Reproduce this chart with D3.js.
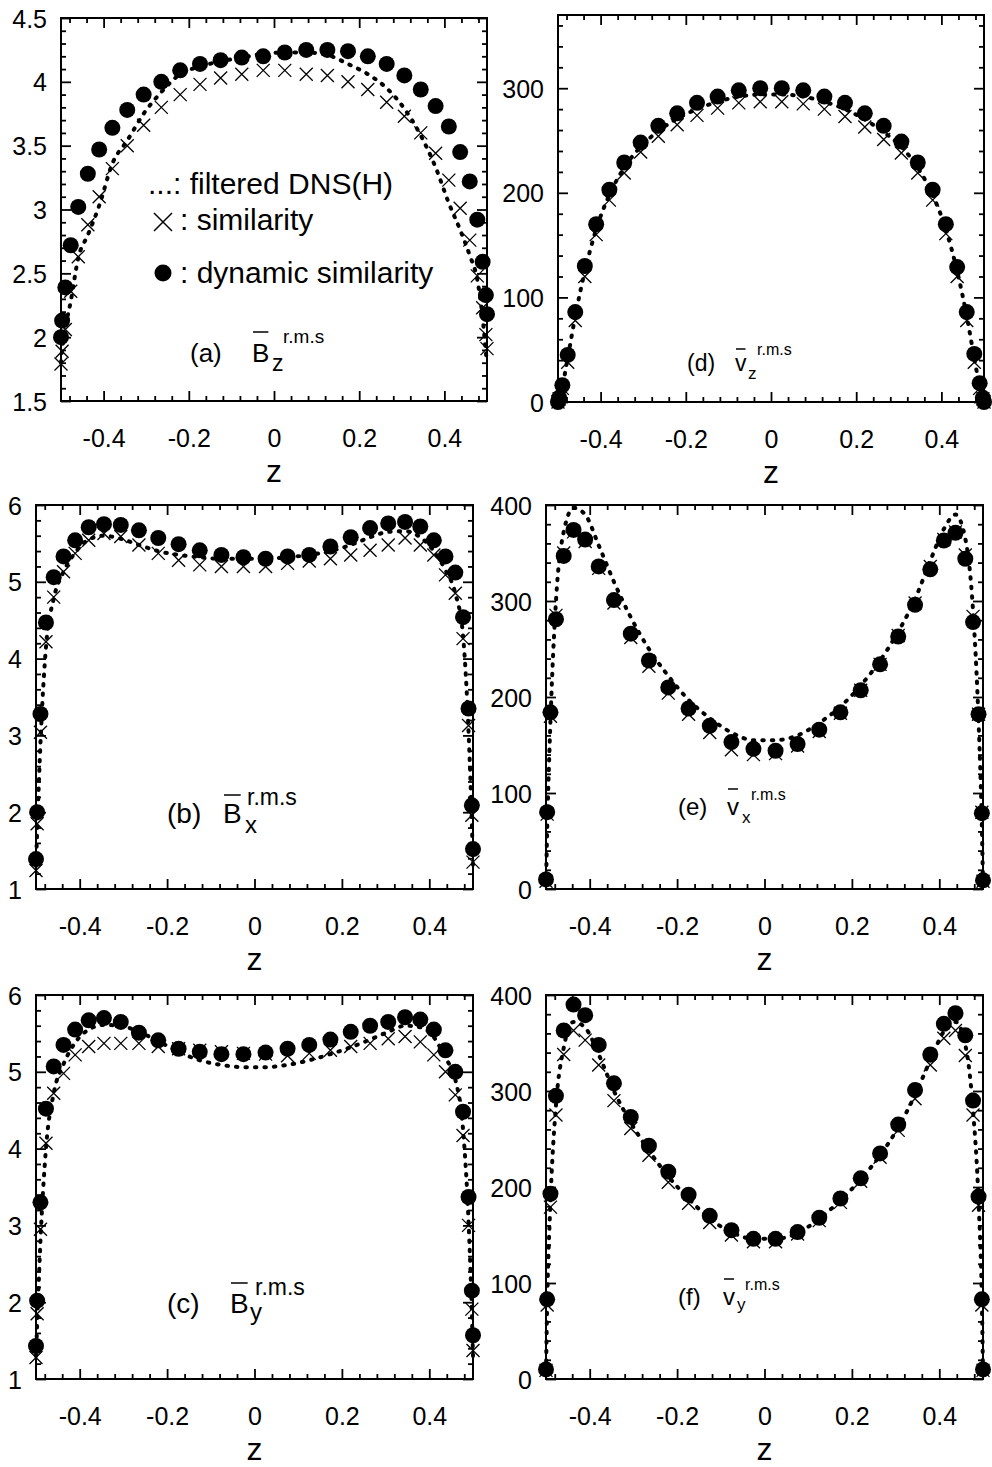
<!DOCTYPE html>
<html>
<head>
<meta charset="utf-8">
<script src="https://cdn.jsdelivr.net/npm/d3@7"></script>
<style>
  html, body { margin: 0; padding: 0; background: #fff; }
  svg { display: block; font-family: "Liberation Sans", Arial, Helvetica, sans-serif; }
</style>
</head>
<body>
<svg id="chart" width="992" height="1467"></svg>
<script>
// wall-normal grid positions z
const zGrid = [-0.5, -0.4974, -0.4898, -0.4772, -0.4595, -0.4370, -0.4104, -0.3794, -0.3445, -0.3060,
  -0.2645, -0.2202, -0.1737, -0.1253, -0.0757, -0.0253, 0.0253, 0.0757, 0.1253, 0.1737, 0.2202,
  0.2645, 0.3060, 0.3445, 0.3794, 0.4104, 0.4370, 0.4595, 0.4772, 0.4898, 0.4974, 0.5];

// (a) Bz r.m.s
const bzDns = [1.80, 1.90, 2.07, 2.28, 2.62, 2.80, 3.03, 3.36, 3.54, 3.75, 3.92, 4.06, 4.12, 4.16, 4.19, 4.22,
  4.23, 4.23, 4.21, 4.14, 4.06, 3.95, 3.79, 3.58, 3.33, 3.05, 2.84, 2.64, 2.45, 2.15, 1.88, 1.80];
const bzSim = [1.79, 1.89, 2.06, 2.36, 2.63, 2.88, 3.10, 3.32, 3.50, 3.66, 3.80, 3.90, 3.98, 4.03, 4.06, 4.09,
  4.09, 4.06, 4.05, 4.00, 3.94, 3.84, 3.73, 3.60, 3.44, 3.23, 3.01, 2.76, 2.48, 2.23, 2.02, 1.91];
const bzDyn = [2.00, 2.13, 2.39, 2.72, 3.02, 3.28, 3.47, 3.64, 3.78, 3.90, 4.00, 4.09, 4.14, 4.17, 4.19, 4.20,
  4.23, 4.25, 4.25, 4.24, 4.20, 4.14, 4.05, 3.94, 3.81, 3.65, 3.45, 3.22, 2.92, 2.59, 2.33, 2.18];

// (b) Bx r.m.s
const bxDns = [1.30, 1.75, 2.90, 4.15, 4.78, 5.13, 5.38, 5.55, 5.60, 5.56, 5.48, 5.40, 5.35, 5.32, 5.30, 5.30,
  5.30, 5.32, 5.35, 5.40, 5.48, 5.58, 5.65, 5.66, 5.58, 5.40, 5.15, 4.85, 4.30, 3.05, 1.85, 1.30];
const bxSim = [1.24, 1.85, 3.04, 4.22, 4.80, 5.13, 5.37, 5.54, 5.63, 5.59, 5.48, 5.37, 5.28, 5.22, 5.20, 5.20,
  5.20, 5.24, 5.27, 5.30, 5.35, 5.41, 5.48, 5.57, 5.48, 5.35, 5.09, 4.85, 4.26, 3.13, 1.96, 1.35];
const bxDyn = [1.39, 2.00, 3.28, 4.47, 5.06, 5.33, 5.54, 5.71, 5.75, 5.74, 5.67, 5.57, 5.49, 5.41, 5.35, 5.32,
  5.30, 5.33, 5.35, 5.46, 5.58, 5.70, 5.76, 5.78, 5.72, 5.54, 5.33, 5.12, 4.54, 3.35, 2.09, 1.52];

// (c) By r.m.s
const byDns = [1.30, 1.70, 2.80, 4.00, 4.72, 5.10, 5.38, 5.55, 5.61, 5.60, 5.52, 5.40, 5.26, 5.15, 5.09, 5.06,
  5.06, 5.09, 5.15, 5.23, 5.32, 5.42, 5.52, 5.60, 5.58, 5.45, 5.18, 4.90, 4.25, 3.05, 1.85, 1.30];
const bySim = [1.28, 1.85, 2.95, 4.07, 4.72, 4.98, 5.22, 5.33, 5.37, 5.37, 5.37, 5.33, 5.30, 5.28, 5.26, 5.24,
  5.23, 5.21, 5.24, 5.28, 5.33, 5.37, 5.43, 5.46, 5.39, 5.22, 5.00, 4.70, 4.17, 3.00, 1.91, 1.37];
const byDyn = [1.43, 2.02, 3.30, 4.52, 5.07, 5.35, 5.55, 5.67, 5.70, 5.65, 5.51, 5.41, 5.30, 5.26, 5.23, 5.23,
  5.25, 5.30, 5.35, 5.42, 5.52, 5.60, 5.65, 5.71, 5.68, 5.55, 5.28, 5.00, 4.48, 3.37, 2.15, 1.57];

// (d) vz r.m.s
const vzDns = [0, 3, 15, 42, 82, 125, 165, 198, 224, 244, 259, 271, 280, 287, 292, 294,
  294, 292, 287, 280, 270, 258, 244, 224, 198, 165, 125, 82, 42, 15, 3, 0];
const vzSim = [0, 3, 13, 38, 78, 120, 160, 193, 219, 239, 254, 265, 274, 281, 286, 287,
  287, 285, 280, 273, 263, 251, 238, 219, 193, 161, 120, 78, 38, 13, 3, 0];
const vzDyn = [0, 4, 16, 45, 86, 130, 170, 203, 229, 248, 264, 276, 286, 292, 298, 300,
  300, 298, 292, 286, 276, 264, 249, 229, 203, 170, 129, 86, 46, 18, 4, 0];

// (e) vx r.m.s
const vxDns = [5, 60, 175, 300, 372, 397, 390, 358, 320, 283, 250, 222, 197, 178, 163, 155,
  155, 160, 173, 190, 212, 238, 268, 302, 342, 375, 390, 365, 290, 175, 65, 5];
const vxSim = [8, 78, 180, 285, 350, 372, 362, 334, 298, 262, 232, 204, 182, 163, 145, 140,
  141, 149, 164, 183, 207, 234, 264, 298, 336, 364, 372, 348, 284, 182, 80, 8];
const vxDyn = [10, 80, 184, 281, 347, 374, 364, 336, 301, 266, 238, 210, 188, 170, 153, 146,
  144, 151, 166, 184, 207, 234, 263, 296, 333, 363, 371, 344, 278, 182, 79, 9];

// (f) vy r.m.s
const vyDns = [8, 75, 185, 285, 345, 372, 366, 338, 300, 267, 238, 211, 188, 167, 153, 146,
  146, 152, 167, 186, 208, 233, 262, 296, 332, 362, 372, 348, 280, 185, 80, 8];
const vySim = [9, 77, 179, 275, 338, 363, 353, 327, 290, 261, 233, 205, 183, 163, 150, 143,
  143, 151, 165, 184, 206, 231, 259, 292, 327, 355, 363, 337, 275, 181, 77, 9];
const vyDyn = [10, 83, 193, 295, 363, 390, 379, 348, 308, 273, 243, 216, 192, 170, 155, 146,
  146, 153, 168, 188, 209, 235, 265, 301, 338, 370, 381, 358, 290, 190, 83, 10];

// tick labels
const zTickValues = [-0.4, -0.2, 0, 0.2, 0.4];
const zTickLabels = ["-0.4", "-0.2", "0", "0.2", "0.4"];
const bzTickValues = [1.5, 2, 2.5, 3, 3.5, 4, 4.5];
const bzTickLabels = ["1.5", "2", "2.5", "3", "3.5", "4", "4.5"];
const bTickValues = [1, 2, 3, 4, 5, 6];
const bTickLabels = ["1", "2", "3", "4", "5", "6"];
const vzTickValues = [0, 100, 200, 300];
const vzTickLabels = ["0", "100", "200", "300"];
const vTickValues = [0, 100, 200, 300, 400];
const vTickLabels = ["0", "100", "200", "300", "400"];

const svg = d3.select("#chart");

const panels = [
  { frame: [61, 487, 18, 401], yDomain: [1.5, 4.5], yMinorStep: 0.1,
    yTicks: bzTickValues, yLabels: bzTickLabels, dns: bzDns, sim: bzSim, dyn: bzDyn,
    note: { tag: "(a)", tx: 190, sym: "B", sx: 252, base: 362, fs: 26, ol: 332,
            sub: "z", subx: 272, subBase: 371, subFs: 23, sup: "r.m.s", supx: 283, supBase: 343, supFs: 19 } },
  { frame: [558, 984, 15, 402], yDomain: [0, 370], yMinorStep: 20,
    yTicks: vzTickValues, yLabels: vzTickLabels, dns: vzDns, sim: vzSim, dyn: vzDyn,
    note: { tag: "(d)", tx: 687, sym: "v", sx: 735, base: 371, fs: 23, ol: 349,
            sub: "z", subx: 748, subBase: 379, subFs: 17, sup: "r.m.s", supx: 757, supBase: 355, supFs: 16 } },
  { frame: [36, 473, 505, 889], yDomain: [1, 6], yMinorStep: 0.2,
    yTicks: bTickValues, yLabels: bTickLabels, dns: bxDns, sim: bxSim, dyn: bxDyn,
    note: { tag: "(b)", tx: 167, sym: "B", sx: 223, base: 823, fs: 28, ol: 795,
            sub: "x", subx: 245, subBase: 833, subFs: 24, sup: "r.m.s", supx: 247, supBase: 805, supFs: 23 } },
  { frame: [546, 983, 505, 889], yDomain: [0, 400], yMinorStep: 20,
    yTicks: vTickValues, yLabels: vTickLabels, dns: vxDns, sim: vxSim, dyn: vxDyn,
    note: { tag: "(e)", tx: 678, sym: "v", sx: 727, base: 815, fs: 24, ol: 789,
            sub: "x", subx: 742, subBase: 823, subFs: 17, sup: "r.m.s", supx: 751, supBase: 800, supFs: 16 } },
  { frame: [36, 473, 995, 1379], yDomain: [1, 6], yMinorStep: 0.2,
    yTicks: bTickValues, yLabels: bTickLabels, dns: byDns, sim: bySim, dyn: byDyn,
    note: { tag: "(c)", tx: 167, sym: "B", sx: 230, base: 1313, fs: 28, ol: 1283,
            sub: "y", subx: 250, subBase: 1320, subFs: 24, sup: "r.m.s", supx: 255, supBase: 1295, supFs: 23 } },
  { frame: [546, 983, 995, 1379], yDomain: [0, 400], yMinorStep: 20,
    yTicks: vTickValues, yLabels: vTickLabels, dns: vyDns, sim: vySim, dyn: vyDyn,
    note: { tag: "(f)", tx: 678, sym: "v", sx: 723, base: 1305, fs: 24, ol: 1279,
            sub: "y", subx: 737, subBase: 1310, subFs: 17, sup: "r.m.s", supx: 745, supBase: 1290, supFs: 16 } }
];

const crossPath = s => `M${-s},${-s}L${s},${s}M${-s},${s}L${s},${-s}`;

function drawPanel(p) {
  const [x0, x1, y0, y1] = p.frame;
  const x = d3.scaleLinear().domain([-0.5, 0.5]).range([x0, x1]);
  const y = d3.scaleLinear().domain(p.yDomain).range([y1, y0]);
  const g = svg.append("g");

  // minor / major tick positions
  const zMinor = d3.range(-12, 13).map(i => +(i * 0.04).toFixed(2)).filter(v => !zTickValues.includes(v));
  const nY = Math.round((p.yDomain[1] - p.yDomain[0]) / p.yMinorStep);
  const yMinor = d3.range(1, nY).map(i => +(p.yDomain[0] + i * p.yMinorStep).toFixed(3))
    .filter(v => !p.yTicks.some(t => Math.abs(t - v) < 1e-6));

  const tickStyle = sel => {
    sel.select(".domain").remove();
    sel.selectAll("line").attr("stroke", "#000").attr("stroke-width", 1.8);
    sel.selectAll("text").remove();
  };
  const axes = [
    [d3.axisBottom(x), `translate(0,${y1})`, zMinor, zTickValues],
    [d3.axisTop(x), `translate(0,${y0})`, zMinor, zTickValues],
    [d3.axisLeft(y), `translate(${x0},0)`, yMinor, p.yTicks],
    [d3.axisRight(y), `translate(${x1},0)`, yMinor, p.yTicks]
  ];
  axes.forEach(([ax, tr, minor, major]) => {
    g.append("g").attr("transform", tr).call(ax.tickValues(minor).tickSize(-5).tickSizeOuter(0)).call(tickStyle);
    g.append("g").attr("transform", tr).call(ax.tickValues(major).tickSize(-10).tickSizeOuter(0)).call(tickStyle);
  });

  // frame
  g.append("rect").attr("x", x0).attr("y", y0).attr("width", x1 - x0).attr("height", y1 - y0)
    .attr("fill", "none").attr("stroke", "#000").attr("stroke-width", 2);

  // tick labels
  const xl = g.append("g").attr("transform", `translate(0,${y1})`)
    .call(d3.axisBottom(x).tickValues(zTickValues).tickSize(0).tickFormat((d, i) => zTickLabels[i]));
  xl.select(".domain").remove();
  xl.selectAll("text").attr("y", 46).attr("dy", null).attr("fill", "#000")
    .style("font-size", "25px").style("font-family", "inherit");

  const yl = g.append("g").attr("transform", `translate(${x0},0)`)
    .call(d3.axisLeft(y).tickValues(p.yTicks).tickSize(0).tickFormat((d, i) => p.yLabels[i]));
  yl.select(".domain").remove();
  yl.selectAll("text").attr("x", -14).attr("dy", "0.36em").attr("fill", "#000")
    .style("font-size", "25px").style("font-family", "inherit");

  // axis title
  g.append("text").attr("x", (x0 + x1) / 2).attr("y", y1 + 81).attr("text-anchor", "middle")
    .style("font-size", "32px").text("z");

  // filtered DNS: dotted curve
  const line = d3.line().x((d, i) => x(zGrid[i])).y(d => y(d)).curve(d3.curveMonotoneX);
  g.append("path").attr("d", line(p.dns)).attr("fill", "none").attr("stroke", "#000")
    .attr("stroke-width", 4).attr("stroke-linecap", "round").attr("stroke-dasharray", "1.5 8");

  // similarity model: crosses
  g.append("g").selectAll("path").data(p.sim).join("path")
    .attr("transform", (d, i) => `translate(${x(zGrid[i])},${y(d)})`)
    .attr("d", crossPath(6.5)).attr("stroke", "#000").attr("stroke-width", 1.3).attr("fill", "none");

  // dynamic similarity model: filled circles
  g.append("g").selectAll("circle").data(p.dyn).join("circle")
    .attr("cx", (d, i) => x(zGrid[i])).attr("cy", d => y(d)).attr("r", 8).attr("fill", "#000");

  // panel annotation with overlined symbol, subscript and superscript
  const n = p.note;
  g.append("text").attr("x", n.tx).attr("y", n.base).style("font-size", n.fs + "px").text(n.tag);
  const sym = g.append("text").attr("x", n.sx).attr("y", n.base).style("font-size", n.fs + "px").text(n.sym);
  const w = sym.node().getComputedTextLength();
  g.append("line").attr("x1", n.sx + 1).attr("x2", n.sx + w - 1).attr("y1", n.ol).attr("y2", n.ol)
    .attr("stroke", "#000").attr("stroke-width", 1.5);
  g.append("text").attr("x", n.subx).attr("y", n.subBase).style("font-size", n.subFs + "px").text(n.sub);
  g.append("text").attr("x", n.supx).attr("y", n.supBase).style("font-size", n.supFs + "px").text(n.sup);
}

panels.forEach(drawPanel);

// legend inside panel (a)
const lg = svg.append("g").style("font-size", "30px");
lg.append("text").attr("x", 148).attr("y", 194).text("...: filtered DNS(H)");
lg.append("path").attr("transform", "translate(163,222)").attr("d", crossPath(9))
  .attr("stroke", "#000").attr("stroke-width", 1.5).attr("fill", "none");
lg.append("text").attr("x", 180).attr("y", 230).text(": similarity");
lg.append("circle").attr("cx", 163).attr("cy", 273).attr("r", 8.5).attr("fill", "#000");
lg.append("text").attr("x", 180).attr("y", 283).text(": dynamic similarity");
</script>
</body>
</html>
